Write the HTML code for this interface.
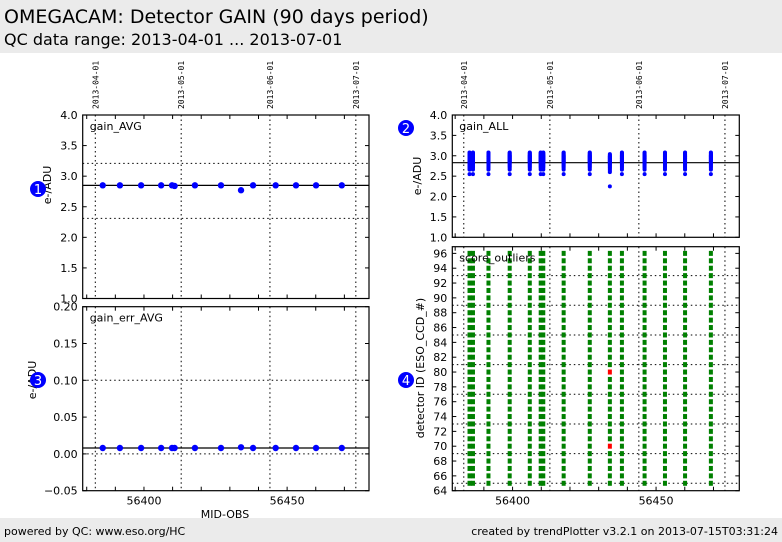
<!DOCTYPE html>
<html><head><meta charset="utf-8"><style>
body{margin:0;width:782px;height:542px;background:#fff;font-family:"DejaVu Sans","Liberation Sans",sans-serif;overflow:hidden;position:relative}
#hdr{position:absolute;left:0;top:0;width:782px;height:53px;background:#ebebeb}
#t1{position:absolute;left:4px;top:6px;font-size:19px;color:#000}
#t2{position:absolute;left:4px;top:30px;font-size:16px;color:#000}
#ftr{position:absolute;left:0;top:518px;width:782px;height:24px;background:#ebebeb;font-size:11px}
#fl{position:absolute;left:4px;top:7px}
#fr{position:absolute;right:4px;top:7px}
svg{position:absolute;left:0;top:0}
</style></head><body>
<div id="hdr">
<div id="t1">OMEGACAM: Detector GAIN (90 days period)</div>
<div id="t2">QC data range: 2013-04-01 ... 2013-07-01</div>
</div>
<svg id="chart" width="782" height="542"></svg>
<div id="ftr">
<span id="fl">powered by QC: www.eso.org/HC</span>
<span id="fr">created by trendPlotter v3.2.1 on 2013-07-15T03:31:24</span>
</div>
<script>
const dates = [56385.6,56391.6,56399,56406,56409.8,56410.7,56417.8,56426.9,56433.9,56438.1,56446,56453.1,56460.1,56469.1];
const gainAvg = [2.85,2.85,2.85,2.85,2.85,2.84,2.85,2.85,2.77,2.85,2.85,2.85,2.85,2.85];
const gainErrAvg = [0.008,0.008,0.008,0.008,0.008,0.008,0.008,0.008,0.009,0.008,0.008,0.008,0.008,0.008];
const dateTickLabels = ["2013-04-01","2013-05-01","2013-06-01","2013-07-01"];
const dateTickMjd = [56383,56413,56444,56474];
const typicalGains = [2.55,2.66,2.69,2.72,2.74,2.76,2.78,2.80,2.82,2.84,2.85,2.86,2.87,2.88,2.89,2.90,2.91,2.92,2.93,2.94,2.95,2.96,2.97,2.98,2.99,3.00,3.01,3.02,3.04,3.05,3.07,3.08];
const lowGains = [2.25,2.60,2.63,2.66,2.69,2.71,2.73,2.75,2.77,2.79,2.80,2.82,2.83,2.84,2.85,2.86,2.87,2.88,2.89,2.90,2.91,2.92,2.93,2.94,2.95,2.96,2.97,2.98,2.99,3.00,3.02,3.04];
const gainAllCols = [56385,56386.2,56391.6,56399,56406,56409.8,56410.7,56417.8,56426.9,56433.9,56438.1,56446,56453.1,56460.1,56469.1];
const gainAllSets = [typicalGains,typicalGains,typicalGains,typicalGains,typicalGains,typicalGains,typicalGains,typicalGains,typicalGains,lowGains,typicalGains,typicalGains,typicalGains,typicalGains,typicalGains];
const detectors = [65,66,67,68,69,70,71,72,73,74,75,76,77,78,79,80,81,82,83,84,85,86,87,88,89,90,91,92,93,94,95,96];
const outliers = [[56433.9,80],[56433.9,70]];

const svg=document.getElementById('chart');
const NS='http://www.w3.org/2000/svg';
function el(tag,attrs,parent){const e=document.createElementNS(NS,tag);for(const k in attrs)e.setAttribute(k,attrs[k]);(parent||svg).appendChild(e);return e;}
function txt(s,attrs){const e=el('text',Object.assign({'font-family':'DejaVu Sans, Liberation Sans, sans-serif','font-size':11,fill:'#000'},attrs));e.textContent=s;return e;}

function panel(name,x0,y0,x1,y1,xmin,xmax,ymin,ymax){
  const g=el('g',{});
  
  
  return {g,x0,y0,x1,y1,sx:v=>x0+(v-xmin)/(xmax-xmin)*(x1-x0),sy:v=>y1-(v-ymin)/(ymax-ymin)*(y1-y0)};
}
function frame(p,yticks,ylabFmt,xlabels,xMajorLabels,minorY){
  // date dotted verticals
  dateTickMjd.forEach(m=>{const x=p.sx(m);const l=el('line',{x1:x,x2:x,y1:p.y0,y2:p.y1,stroke:'#000','stroke-dasharray':'1.5,3','stroke-width':1},p.g);});
  // x ticks every 10 days
  for(let m=56380;m<=56470;m+=10){const x=p.sx(m);el('line',{x1:x,x2:x,y1:p.y1,y2:p.y1-4,stroke:'#000'},p.g);el('line',{x1:x,x2:x,y1:p.y0,y2:p.y0+4,stroke:'#000'},p.g);}
  yticks.forEach(v=>{const y=p.sy(v);el('line',{x1:p.x0,x2:p.x0+4,y1:y,y2:y,stroke:'#000'},p.g);el('line',{x1:p.x1,x2:p.x1-4,y1:y,y2:y,stroke:'#000'},p.g);
    const t=txt(ylabFmt(v),{x:p.x0-5,y:y+4,'text-anchor':'end'});});
  if(xMajorLabels){[56400,56450].forEach(m=>{const t=txt(String(m),{x:p.sx(m),y:p.y1+14,'text-anchor':'middle'});});}
  if(xlabels){dateTickMjd.forEach((m,i)=>{const x=p.sx(m)+3;const t=txt(dateTickLabels[i],{x:x,y:p.y0-6,transform:`rotate(-90 ${x} ${p.y0-6})`,'font-family':'DejaVu Sans Mono, Liberation Mono, monospace','font-size':8});});}
}
function border(p){const r=el('rect',{x:p.x0,y:p.y0,width:p.x1-p.x0,height:p.y1-p.y0,fill:'none',stroke:'#000','stroke-width':1.2},p.g);}
function hline(p,v,dotted,name){const y=p.sy(v);const l=el('line',{x1:p.x0,x2:p.x1,y1:y,y2:y,stroke:'#000','stroke-width':dotted?1:1.2,'stroke-dasharray':dotted?'1.5,3':'none'},p.g);}
function label(p,s,name){const t=txt(s,{x:p.x0+7,y:p.y0+15});}
function ylab(x,y,s,name){const t=txt(s,{x:x,y:y,'text-anchor':'middle',transform:`rotate(-90 ${x} ${y})`});}
function badge(x,y,n){const g=el('g',{});el('circle',{cx:x,cy:y,r:8,fill:'#0000ff'},g);const t=el('text',{x:x,y:y+5,'text-anchor':'middle',fill:'#fff','font-size':13,'font-family':'DejaVu Sans, sans-serif'},g);t.textContent=n;}

// Panel 1 gain_AVG
const p1=panel('gain-avg-panel',82.7,115,369,298.5,56378.6,56478.6,1,4);
frame(p1,[1,1.5,2,2.5,3,3.5,4],v=>v.toFixed(1),true,false);
hline(p1,3.21,true,'upper-threshold');hline(p1,2.31,true,'lower-threshold');hline(p1,2.85,false,'reference-line');
dates.forEach((d,i)=>{const c=el('circle',{cx:p1.sx(d),cy:p1.sy(gainAvg[i]),r:3.2,fill:'#0000ff'},p1.g);});
border(p1);label(p1,'gain_AVG','panel-label-gain-avg');ylab(51,185,'e-/ADU','y-axis-title-gain-avg');

// Panel 3 gain_err_AVG
const p3=panel('gain-err-avg-panel',82.7,306.7,369,490.7,56378.6,56478.6,-0.05,0.2);
frame(p3,[-0.05,0,0.05,0.1,0.15,0.2],v=>(v<0?'\u2212':'')+Math.abs(v).toFixed(2),false,true);
hline(p3,0.1,true,'upper-threshold');hline(p3,0,true,'lower-threshold');hline(p3,0.008,false,'reference-line');
dates.forEach((d,i)=>{const c=el('circle',{cx:p3.sx(d),cy:p3.sy(gainErrAvg[i]),r:3.2,fill:'#0000ff'},p3.g);});
border(p3);label(p3,'gain_err_AVG','panel-label-gain-err-avg');ylab(36,380,'e-/ADU','y-axis-title-gain-err');
const xt=txt('MJD-OBS',{x:225,y:518,'text-anchor':'middle'});

// Panel 2 gain_ALL
const p2=panel('gain-all-panel',452.3,115,739.3,237.3,56379,56479,1,4);
frame(p2,[1,1.5,2,2.5,3,3.5,4],v=>v.toFixed(1),true,false);
hline(p2,2.83,false,'reference-line');
gainAllCols.forEach((d,i)=>{gainAllSets[i].forEach(v=>{const c=el('circle',{cx:p2.sx(d),cy:p2.sy(v),r:2,fill:'#0000ff'},p2.g);});});
border(p2);label(p2,'gain_ALL','panel-label-gain-all');ylab(421,176,'e-/ADU','y-axis-title-gain-all');

// Panel 4 score_outliers
const p4=panel('score-outliers-panel',452.3,246.7,739.3,490.7,56379,56479,64,96.9);
frame(p4,[64,66,68,70,72,74,76,78,80,82,84,86,88,90,92,94,96],v=>String(v),false,true);
[65,69,73,77,81,85,89,93].forEach(v=>hline(p4,v,true,'detector-group-gridline'));
gainAllCols.forEach(d=>{detectors.forEach(det=>{const bad=outliers.some(o=>Math.abs(o[0]-d)<0.01&&o[1]===det);const r=el('rect',{x:p4.sx(d)-2,y:p4.sy(det)-2.5,width:4,height:5,fill:bad?'#ff0000':'#008000'},p4.g);});});
border(p4);label(p4,'score_outliers','panel-label-score-outliers');ylab(424,368,'detector ID (ESO_CCD_#)','y-axis-title-detector-id');

badge(38,189,'1');badge(406,128,'2');badge(38,380,'3');badge(406,380,'4');
</script>
</body></html>
